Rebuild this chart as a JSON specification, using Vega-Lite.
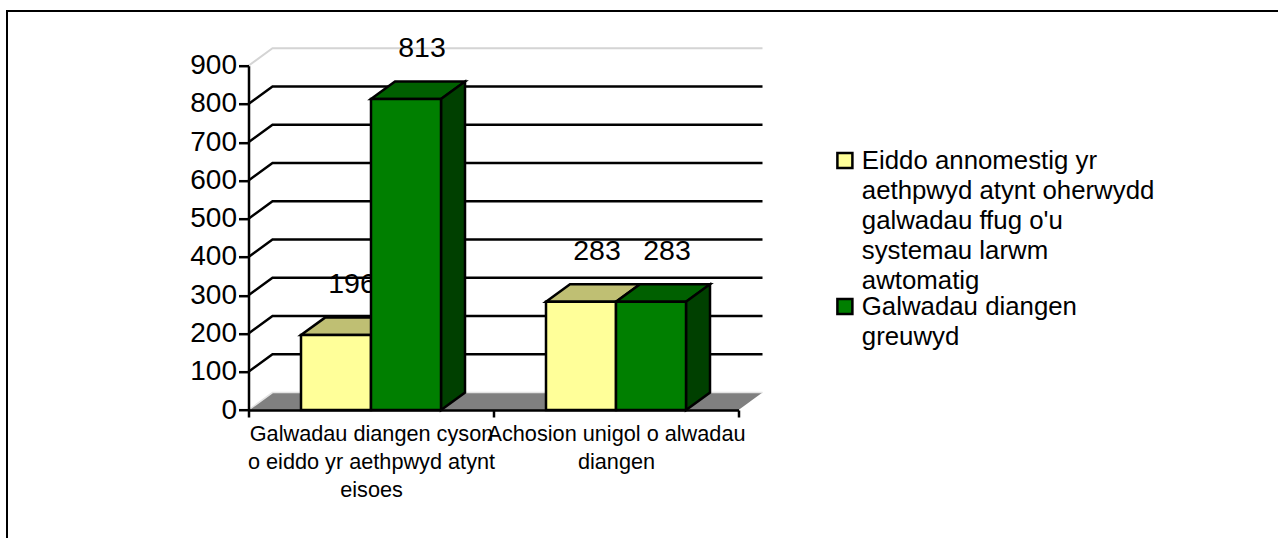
{
"$schema":"https://vega.github.io/schema/vega-lite/v6.json",
"width":490,"height":344.3,
"autosize":{"type":"none"},
"padding":{"left":248.5,"top":65.7,"right":539.5,"bottom":128},
"background":"white",
"config":{"view":{"stroke":null},"font":"Liberation Sans","style":{"guide-label":{"lineHeight":30}}},
"data":{"values":[
{"category":"Galwadau diangen cyson|o eiddo yr aethpwyd atynt|eisoes","series":"Eiddo annomestig yr|aethpwyd atynt oherwydd|galwadau ffug o'u|systemau larwm|awtomatig","value":196},
{"category":"Galwadau diangen cyson|o eiddo yr aethpwyd atynt|eisoes","series":"Galwadau diangen|greuwyd","value":813},
{"category":"Achosion unigol o alwadau|diangen","series":"Eiddo annomestig yr|aethpwyd atynt oherwydd|galwadau ffug o'u|systemau larwm|awtomatig","value":283},
{"category":"Achosion unigol o alwadau|diangen","series":"Galwadau diangen|greuwyd","value":283}
]},
"encoding":{
"x":{"field":"category","type":"nominal","sort":null,
 "scale":{"type":"band","domain":["Galwadau diangen cyson|o eiddo yr aethpwyd atynt|eisoes","Achosion unigol o alwadau|diangen"],"paddingInner":0,"paddingOuter":0},
 "axis":{"title":null,"labelAngle":0,"labelExpr":"split(datum.label,'|')","labelFontSize":21.7,"labelLineHeight":28,"labelColor":"#000000","labelPadding":6,"labelLimit":0,"labelOverlap":false,"labelBound":false,"labelFlush":false,"tickBand":"extent","tickSize":7,"tickWidth":2.5,"tickColor":"#000000","domainColor":"#000000","domainWidth":2.5,"grid":false,"zindex":1}},
"xOffset":{"field":"series","type":"nominal","sort":null,
 "scale":{"domain":["Eiddo annomestig yr|aethpwyd atynt oherwydd|galwadau ffug o'u|systemau larwm|awtomatig","Galwadau diangen|greuwyd"],"paddingInner":0,"paddingOuter":0.75}},
"y":{"field":"value","type":"quantitative",
 "scale":{"domain":[0,900],"nice":false},
 "axis":{"title":null,"values":[0,100,200,300,400,500,600,700,800,900],"labelFontSize":28,"labelColor":"#000000","labelPadding":2,"tickSize":10,"tickWidth":2.5,"tickColor":"#000000","domainColor":"#000000","domainWidth":2.5,"grid":false,"zindex":1}}
},
"layer":[
{"data":{"values":[{"v":0}]},
 "mark":{"type":"point","shape":"M-241.5,128L-241.5,-399L1029.5,-399","size":4,"filled":false,"fill":null,"stroke":"#000000","strokeWidth":2,"opacity":1},
 "encoding":{"x":{"datum":"Galwadau diangen cyson|o eiddo yr aethpwyd atynt|eisoes","bandPosition":0},"xOffset":{"value":0},"y":{"field":"v","type":"quantitative"}}},
{"data":{"values":[{"v":0}]},
 "mark":{"type":"point","shape":"M0,0L24,-17.4L514,-17.4L490,0Z","size":4,"filled":true,"fill":"#808080","stroke":null,"opacity":1},
 "encoding":{"x":{"datum":"Galwadau diangen cyson|o eiddo yr aethpwyd atynt|eisoes","bandPosition":0},"xOffset":{"value":0},"y":{"field":"v","type":"quantitative"}}},
{"data":{"values":[{"v":0}]},
 "mark":{"type":"point","shape":"M0,0L24,-17.4L514,-17.4","size":4,"filled":false,"fill":null,"stroke":"#e4e4e4","strokeWidth":1.5,"opacity":1},
 "encoding":{"x":{"datum":"Galwadau diangen cyson|o eiddo yr aethpwyd atynt|eisoes","bandPosition":0},"xOffset":{"value":0},"y":{"field":"v","type":"quantitative"}}},
{"data":{"values":[{"v":900}]},
 "mark":{"type":"point","shape":"M0,0L24,-17.4L514,-17.4","size":4,"filled":false,"fill":null,"stroke":"#d4d4d4","strokeWidth":2,"opacity":1},
 "encoding":{"x":{"datum":"Galwadau diangen cyson|o eiddo yr aethpwyd atynt|eisoes","bandPosition":0},"xOffset":{"value":0},"y":{"field":"v","type":"quantitative"}}},
{"data":{"values":[{"v":100},{"v":200},{"v":300},{"v":400},{"v":500},{"v":600},{"v":700},{"v":800}]},
 "mark":{"type":"point","shape":"M0,0L24,-17.4L514,-17.4","size":4,"filled":false,"fill":null,"stroke":"#000000","strokeWidth":2.5,"opacity":1},
 "encoding":{"x":{"datum":"Galwadau diangen cyson|o eiddo yr aethpwyd atynt|eisoes","bandPosition":0},"xOffset":{"value":0},"y":{"field":"v","type":"quantitative"}}},
{"mark":{"type":"text","fontSize":28.5,"dx":16,"dy":-42,"baseline":"alphabetic","align":"center","color":"#000000"},
 "encoding":{"text":{"field":"value","type":"quantitative"}}},
{"transform":[{"filter":"indexof(datum.series,'Eiddo')==0"}],
 "mark":{"type":"point","shape":"M-35,0L35,0L59,-17.4L-11,-17.4Z","size":4,"filled":true,"fill":"#BFBF73","stroke":"#000000","strokeWidth":2.5,"opacity":1}},
{"transform":[{"filter":"indexof(datum.series,'Galwadau')==0"}],
 "mark":{"type":"point","shape":"M-35,0L35,0L59,-17.4L-11,-17.4Z","size":4,"filled":true,"fill":"#006000","stroke":"#000000","strokeWidth":2.5,"opacity":1}},
{"transform":[{"filter":"indexof(datum.series,'Galwadau')==0"}],
 "mark":{"type":"point","size":4,"filled":true,"fill":"#004000","stroke":"#000000","strokeWidth":2.5,"opacity":1},
 "encoding":{"shape":{"field":"value","type":"nominal","legend":null,"scale":{"domain":[813,283],"range":["M35,0L59,-17.4L59,293.6L35,311Z","M35,0L59,-17.4L59,90.9L35,108.3Z"]}}}},
{"mark":{"type":"bar","stroke":"#000000","strokeWidth":2.5},
 "encoding":{"fill":{"field":"series","type":"nominal","sort":null,
  "scale":{"domain":["Eiddo annomestig yr|aethpwyd atynt oherwydd|galwadau ffug o'u|systemau larwm|awtomatig","Galwadau diangen|greuwyd"],"range":["#FFFF99","#007F00"]},
  "legend":{"title":null,"orient":"none","legendX":583.5,"legendY":82,"labelExpr":"split(datum.label,'|')","labelFontSize":25.8,"labelColor":"#000000","labelLimit":0,"labelOffset":4,"labelBaseline":"middle","symbolType":"square","symbolSize":225,"symbolStrokeColor":"#000000","symbolStrokeWidth":2.5,"symbolOpacity":1,"rowPadding":-28,"padding":0}}}}
]
}
